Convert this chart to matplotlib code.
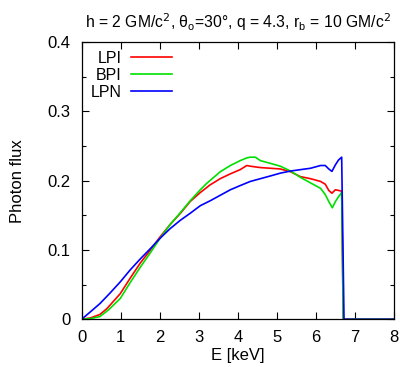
import matplotlib
matplotlib.use("Agg")
import matplotlib.pyplot as plt
from matplotlib.ticker import MultipleLocator

plt.rcParams['font.family'] = ['Liberation Sans', 'DejaVu Sans']

title = "h = 2 GM/c$^2$, θ$_\\mathregular{o}$=30°, q = 4.3, r$_\\mathregular{b}$ = 10 GM/c$^2$"
xlabel = "E [keV]"
ylabel = "Photon flux"

E_lpi = [0.0, 0.23, 0.47, 0.65, 0.99, 1.24, 1.5, 1.76, 2.01, 2.27, 2.53, 2.78, 3.04, 3.29, 3.55,
         3.81, 4.06, 4.23, 4.32, 4.58, 4.84, 5.09, 5.35, 5.6, 5.86, 6.12, 6.24, 6.33, 6.41,
         6.5, 6.58, 6.66, 6.7, 8.0]
F_lpi = [0.0, 0.002, 0.007, 0.0155, 0.037, 0.059, 0.081, 0.100, 0.119, 0.137, 0.153, 0.170,
         0.183, 0.194, 0.203, 0.210, 0.216, 0.222, 0.221, 0.219, 0.218, 0.217, 0.213, 0.206,
         0.203, 0.199, 0.195, 0.186, 0.182, 0.187, 0.186, 0.185, 0.0, 0.0]

E_bpi = [0.0, 0.23, 0.47, 0.69, 0.99, 1.24, 1.5, 1.76, 2.01, 2.27, 2.53, 2.78, 3.04, 3.2, 3.55,
         3.81, 4.06, 4.23, 4.32, 4.45, 4.58, 4.84, 5.09, 5.35, 5.6, 5.86, 6.12, 6.24, 6.33,
         6.42, 6.5, 6.58, 6.66, 6.7, 8.0]
F_bpi = [0.0, 0.001, 0.004, 0.0136, 0.030, 0.0526, 0.075, 0.096, 0.117, 0.137, 0.154, 0.171,
         0.187, 0.196, 0.213, 0.222, 0.229, 0.233, 0.234, 0.234, 0.229, 0.225, 0.221, 0.214,
         0.205, 0.197, 0.189, 0.180, 0.170, 0.161, 0.170, 0.177, 0.183, 0.0, 0.0]

E_lpn = [0.0, 0.23, 0.47, 0.73, 0.99, 1.24, 1.5, 1.76, 2.01, 2.27, 2.53, 2.78, 3.04, 3.29, 3.55,
         3.81, 4.06, 4.32, 4.58, 4.84, 5.09, 5.35, 5.6, 5.86, 6.12, 6.24, 6.33, 6.41, 6.5,
         6.58, 6.66, 6.72, 8.0]
F_lpn = [0.0, 0.011, 0.0227, 0.038, 0.054, 0.071, 0.087, 0.102, 0.117, 0.131, 0.143, 0.153,
         0.164, 0.171, 0.179, 0.187, 0.193, 0.199, 0.203, 0.207, 0.211, 0.214, 0.216, 0.218,
         0.222, 0.222, 0.217, 0.2135, 0.223, 0.230, 0.234, 0.0, 0.0]

fig = plt.figure(figsize=(4.0, 3.67), dpi=100)
ax = fig.add_axes([0.204, 0.130, 0.781, 0.755])

ax.plot(E_lpi, F_lpi, color='#ff0000', lw=1.2, label='LPI')
ax.plot(E_bpi, F_bpi, color='#00e000', lw=1.2, label='BPI')
ax.plot(E_lpn, F_lpn, color='#0000ff', lw=1.2, label='LPN')

ax.set_xlim(0, 8)
ax.set_ylim(0, 0.4)
ax.xaxis.set_major_locator(MultipleLocator(1))
ax.yaxis.set_minor_locator(MultipleLocator(0.05))
ax.set_yticks([0, 0.1, 0.2, 0.3, 0.4])
ax.set_yticklabels(['0', '0.1', '0.2', '0.3', '0.4'])
ax.tick_params(which='both', direction='in', top=True, right=True, labelsize=12)
ax.tick_params(which='major', length=5, width=0.8)
ax.tick_params(which='minor', length=3, width=0.8)
ax.tick_params(axis='x', pad=8)
ax.tick_params(axis='y', pad=8)
for s in ax.spines.values():
    s.set_linewidth(0.9)

ax.set_xlabel(xlabel, fontsize=12, labelpad=2)
ax.set_ylabel(ylabel, fontsize=12, labelpad=16)
ax.set_title(title, fontsize=11.3, pad=10)

ax.legend(loc='upper left', markerfirst=False, frameon=False, fontsize=11.5,
          handlelength=2.6, handletextpad=0.6, labelspacing=0.12,
          borderaxespad=0.15, bbox_to_anchor=(0.0, 1.0))

fig.savefig('out.png', dpi=100)
